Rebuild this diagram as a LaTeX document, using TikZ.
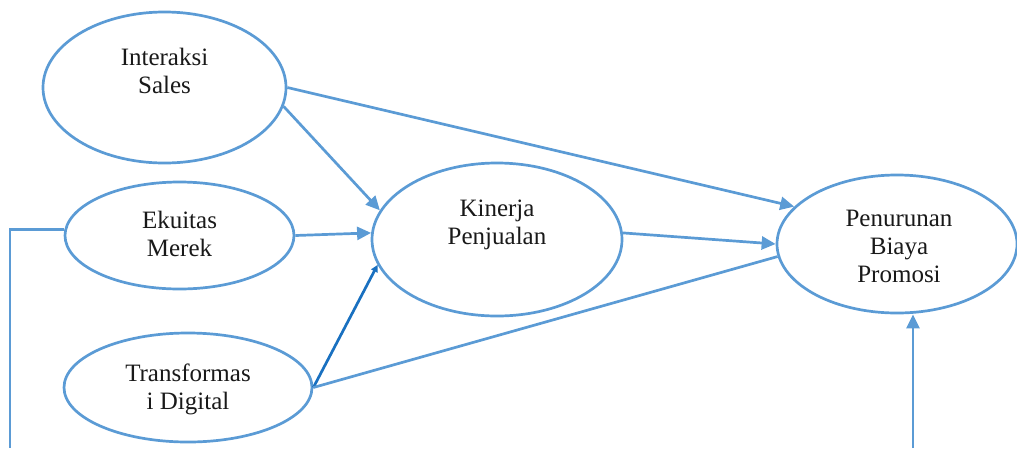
\documentclass[tikz,border=0pt]{standalone}
\usepackage{fontspec}
\setmainfont{Liberation Serif}
\usetikzlibrary{arrows.meta,shapes.geometric}
\definecolor{lb}{RGB}{91,155,213}
\definecolor{db}{RGB}{25,112,192}
\begin{document}
\begin{tikzpicture}[x=1pt,y=-1pt,
  oval/.style={ellipse,draw=lb,line width=2.7pt,inner sep=0pt},
  lbl/.style={align=center,font=\fontsize{25}{28}\selectfont,text=black!90},
  conn/.style={draw=lb,line width=2.7pt},
  arr/.style={conn,-{Triangle[length=14pt,width=13pt]}},
  darr/.style={draw=db,line width=2.7pt,-{Triangle[length=7pt,width=7pt]}}]
\useasboundingbox (0,0) rectangle (1017,448);
\node[oval,minimum width=243pt,minimum height=151pt] (is) at (164.5,87.5) {};
\node[oval,minimum width=229pt,minimum height=107pt] (ek) at (179.5,235.5) {};
\node[oval,minimum width=248pt,minimum height=109pt] (td) at (188,387.5) {};
\node[oval,minimum width=250pt,minimum height=153pt] (kp) at (497,239.5) {};
\node[oval,minimum width=240pt,minimum height=138pt] (pp) at (897,244) {};
\node[lbl] (ist) at (164.5,71) {Interaksi\\Sales};
\node[lbl] (ekt) at (179.5,234) {Ekuitas\\Merek};
\node[lbl] (tdt) at (188,389.5) {Transformas\\i Digital};
\node[lbl] (kpt) at (497,224.5) {Kinerja\\Penjualan};
\node[lbl] (ppt) at (899,246) {Penurunan\\Biaya\\Promosi};
\draw[arr] (is.east) -- (pp.160);
\draw[arr] (is.-9) -- (kp.166);
\draw[arr] (ek.east) -- (kp.177);
\draw[darr] (td.east) -- (kp.192);
\draw[conn] (td.east) -- (pp.186);
\draw[arr] (kp.3) -- (pp.west);
\coordinate (l1) at (10,448);
\draw[conn] (ek.177) -| (l1);
\coordinate (b1) at (913,448);
\draw[arr] (b1) -- (b1 |- pp.south);
\end{tikzpicture}
\end{document}
